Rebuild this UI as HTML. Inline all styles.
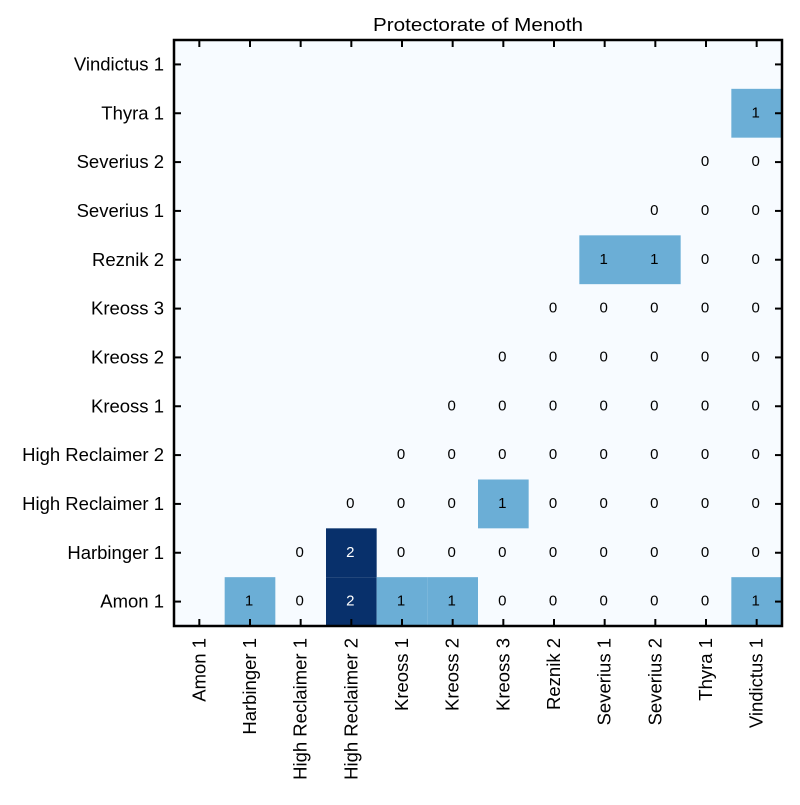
<!DOCTYPE html>
<html><head><meta charset="utf-8"><style>
body{margin:0;background:#fff;}
svg text{font-family:"Liberation Sans",sans-serif;}
</style></head><body>
<svg id="chart" width="800" height="800" xmlns="http://www.w3.org/2000/svg">
<text x="478" y="31" font-size="18" text-anchor="middle" textLength="210" lengthAdjust="spacingAndGlyphs">Protectorate of Menoth</text>
<g id="cells"></g><g id="ticks"></g>
<rect x="174" y="40" width="608" height="586" fill="none" stroke="#000" stroke-width="2.5"/>
</svg>
<script>
const categories=["Amon 1","Harbinger 1","High Reclaimer 1","High Reclaimer 2","Kreoss 1","Kreoss 2","Kreoss 3","Reznik 2","Severius 1","Severius 2","Thyra 1","Vindictus 1"];
// rowValues[r][c], null = empty; r indexes categories from bottom
const rowValues=[
[null,1,0,2,1,1,0,0,0,0,0,1],
[null,null,0,2,0,0,0,0,0,0,0,0],
[null,null,null,0,0,0,1,0,0,0,0,0],
[null,null,null,null,0,0,0,0,0,0,0,0],
[null,null,null,null,null,0,0,0,0,0,0,0],
[null,null,null,null,null,null,0,0,0,0,0,0],
[null,null,null,null,null,null,null,0,0,0,0,0],
[null,null,null,null,null,null,null,null,1,1,0,0],
[null,null,null,null,null,null,null,null,null,0,0,0],
[null,null,null,null,null,null,null,null,null,null,0,0],
[null,null,null,null,null,null,null,null,null,null,null,1],
[null,null,null,null,null,null,null,null,null,null,null,null]
];
const colorScale=["#f7fbff","#6baed6","#08306b"];
const L=174,T=40,W=608,H=586,n=categories.length;
const cw=W/n,rh=H/n;
const xPos=c=>L+c*cw;
const yPos=r=>T+(n-1-r)*rh;
const NS="http://www.w3.org/2000/svg";
const cells=document.getElementById('cells'),ticks=document.getElementById('ticks');
function mk(tag,attrs,parent){const e=document.createElementNS(NS,tag);for(const k in attrs)e.setAttribute(k,attrs[k]);parent.appendChild(e);return e;}
mk('rect',{x:L,y:T,width:W,height:H,fill:colorScale[0]},cells);
rowValues.forEach((row,r)=>row.forEach((v,c)=>{
 if(v===null)return;
 if(v>0){const rc=mk('rect',{x:xPos(c),y:yPos(r),width:cw,height:rh,fill:colorScale[v]},cells);
 
 }
 const t=mk('text',{x:xPos(c)+cw/2-1,y:yPos(r)+rh/2+4,'font-size':'15','text-anchor':'middle',fill:v===2?'#fff':'#000'},cells);
 
 
 t.textContent=v;
}));
categories.forEach((name,i)=>{
 const cx=xPos(i)+cw/2, cy=yPos(i)+rh/2;
 mk('line',{x1:cx,y1:626,x2:cx,y2:619,stroke:'#000','stroke-width':2},ticks);
 mk('line',{x1:cx,y1:T,x2:cx,y2:T+7,stroke:'#000','stroke-width':2},ticks);
 mk('line',{x1:L,y1:cy,x2:L+7,y2:cy,stroke:'#000','stroke-width':2},ticks);
 mk('line',{x1:L+W,y1:cy,x2:L+W-7,y2:cy,stroke:'#000','stroke-width':2},ticks);
 const yl=mk('text',{x:L-10,y:cy+6,'font-size':'18.5','text-anchor':'end'},ticks);
 
 
 yl.textContent=name;
 const xl=mk('text',{x:0,y:0,'font-size':'18.5','text-anchor':'end',transform:`translate(${cx+6},638) rotate(-90)`},ticks);
 
 
 xl.textContent=name;
});
</script>
</body></html>
